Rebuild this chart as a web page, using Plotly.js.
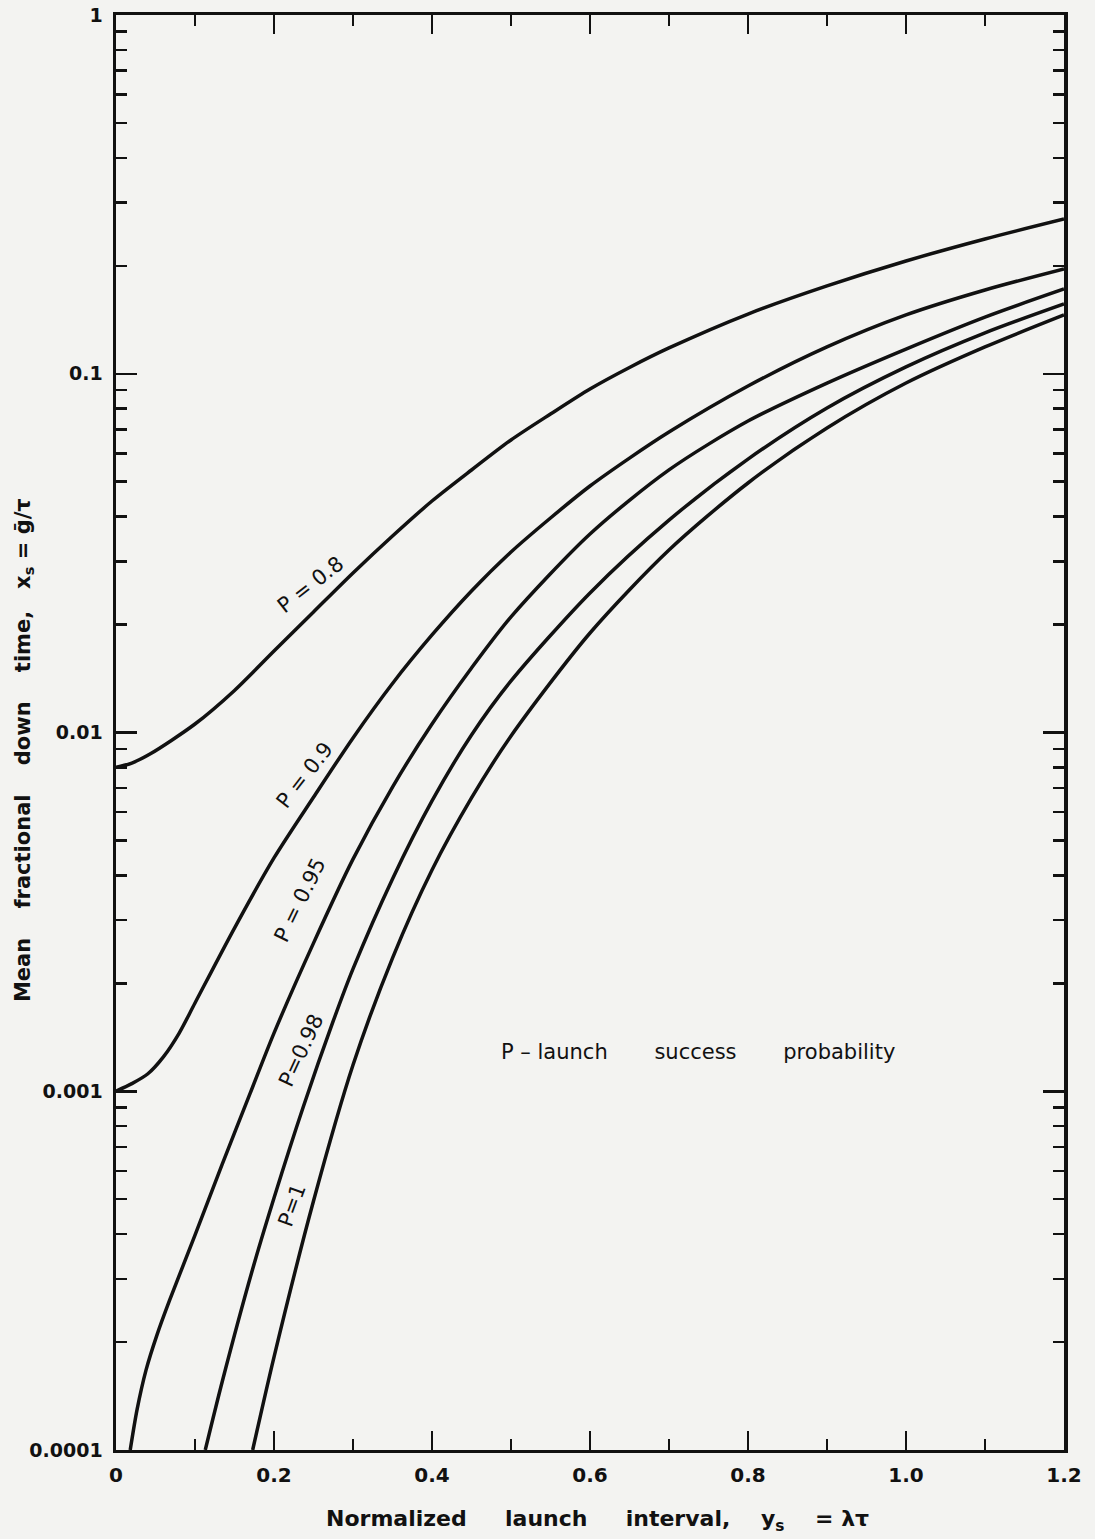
<!DOCTYPE html>
<html>
<head>
<meta charset="utf-8">
<script src="https://cdn.plot.ly/plotly-3.0.1.min.js"></script>
<style>html,body{margin:0;padding:0;background:#f3f3f1;}</style>
</head>
<body>
<div id="chart" style="width:1095px;height:1539px;"></div>
<script>
// ---- data ----
const x08 = [0, 0.02, 0.043, 0.1, 0.15, 0.2, 0.25, 0.3, 0.35, 0.4, 0.45, 0.5, 0.55, 0.6, 0.65, 0.7, 0.8, 0.9, 1.0, 1.1, 1.2];
const y08 = [0.0080, 0.00822, 0.00871, 0.01056, 0.0131, 0.01687, 0.02167, 0.02783, 0.03529, 0.04418, 0.05391, 0.06537, 0.07722, 0.09067, 0.1041, 0.1180, 0.1467, 0.1757, 0.2062, 0.2375, 0.2700];

const x09 = [0, 0.02, 0.04, 0.06, 0.08, 0.1, 0.15, 0.2, 0.25, 0.3, 0.35, 0.4, 0.45, 0.5, 0.55, 0.6, 0.65, 0.7, 0.8, 0.9, 1.0, 1.1, 1.2];
const y09 = [0.0010, 0.00105, 0.001117, 0.001247, 0.001453, 0.001762, 0.00285, 0.00447, 0.0066, 0.00966, 0.0137, 0.0187, 0.0248, 0.03185, 0.03962, 0.04865, 0.0582, 0.0688, 0.0924, 0.1188, 0.1459, 0.1712, 0.196];

const x095 = [0.018, 0.0266, 0.038, 0.0519, 0.068, 0.1, 0.134, 0.17, 0.2, 0.25, 0.3, 0.35, 0.4, 0.45, 0.5, 0.6, 0.7, 0.8, 0.9, 1.0, 1.1, 1.2];
const y095 = [0.0001, 0.0001294, 0.000167, 0.0002094, 0.000262, 0.000397, 0.000622, 0.000989, 0.001452, 0.002588, 0.004437, 0.007047, 0.01056, 0.01513, 0.0210, 0.03575, 0.05395, 0.07381, 0.0942, 0.1172, 0.1439, 0.1723];

const x098 = [0.113, 0.135, 0.173, 0.2, 0.237, 0.275, 0.3, 0.35, 0.4, 0.45, 0.5, 0.6, 0.7, 0.8, 0.9, 1.0, 1.1, 1.2];
const y098 = [0.0001, 0.0001567, 0.0003196, 0.0005039, 0.0009036, 0.00157, 0.002193, 0.003908, 0.006446, 0.00984, 0.01392, 0.02449, 0.03908, 0.05782, 0.08028, 0.1045, 0.130, 0.1565];

const x10 = [0.173, 0.2, 0.25, 0.3, 0.35, 0.4, 0.45, 0.5, 0.6, 0.7, 0.8, 0.9, 1.0, 1.1, 1.2];
const y10 = [0.0001, 0.0001816, 0.0004943, 0.001183, 0.002351, 0.004137, 0.006569, 0.00978, 0.01894, 0.03226, 0.0496, 0.0706, 0.0942, 0.1188, 0.1459];

const curveLabels = ["P = 0.8", "P = 0.9", "P = 0.95", "P=0.98", "P=1"];
const labelX = [0.2456, 0.239, 0.233, 0.235, 0.223];
const labelY = [0.0258, 0.00762, 0.00341, 0.0013, 0.000482];
const labelAngle = [-38, -52, -64, -65, -70];

const xTickVals = [0, 0.2, 0.4, 0.6, 0.8, 1.0, 1.2];
const xTickText = ["0", "0.2", "0.4", "0.6", "0.8", "1.0", "1.2"];
const xMinorVals = [0.1, 0.3, 0.5, 0.7, 0.9, 1.1];
const yTickVals = [0.0001, 0.001, 0.01, 0.1, 1];
const yTickText = ["0.0001", "0.001", "0.01", "0.1", "1"];
const yMinorVals = [];
[0.0001, 0.001, 0.01, 0.1].forEach(d => { for (let k = 2; k <= 9; k++) yMinorVals.push(+(d * k).toPrecision(3)); });

const sp = n => "\u00a0".repeat(n);
const xTitle = "Normalized" + sp(5) + "launch" + sp(5) + "interval," + sp(4) + "y<sub>s</sub>" + sp(4) + "=\u00a0λτ";
const yTitle = "Mean" + sp(4) + "fractional" + sp(4) + "down" + sp(4) + "time," + sp(3) + "x<sub>s</sub>\u00a0=\u00a0ḡ/τ";
const noteText = "P\u00a0–\u00a0launch" + sp(7) + "success" + sp(7) + "probability";

// ---- traces ----
const series = [[x08, y08], [x09, y09], [x095, y095], [x098, y098], [x10, y10]];
const traces = series.map((s, i) => ({
  x: s[0], y: s[1], type: "scatter", mode: "lines",
  name: curveLabels[i],
  line: { color: "#111", width: 3.5, shape: "spline", smoothing: 0.8 },
  hoverinfo: "skip"
}));

const FONT = "DejaVu Sans, sans-serif";
const annotations = curveLabels.map((t, i) => ({
  x: labelX[i], y: Math.log10(labelY[i]), xref: "x", yref: "y",
  text: t, showarrow: false, textangle: labelAngle[i],
  font: { family: FONT, size: 21, color: "#111" }
}));
annotations.push({
  x: 0.737, y: Math.log10(0.00129), xref: "x", yref: "y", text: noteText,
  showarrow: false, font: { family: FONT, size: 21, color: "#111" }
});
annotations.push({
  x: 0.508, y: -0.0488, xref: "paper", yref: "paper", text: xTitle,
  showarrow: false, xanchor: "center", yanchor: "middle",
  font: { family: FONT, size: 22, color: "#111", weight: "bold" }
});
annotations.push({
  x: -0.097, y: 0.4878, xref: "paper", yref: "paper", text: yTitle,
  showarrow: false, textangle: -90, xanchor: "center", yanchor: "middle",
  font: { family: FONT, size: 21, color: "#111", weight: "bold" }
});

const layout = {
  width: 1095, height: 1539,
  margin: { l: 116, r: 31, t: 15, b: 89 },
  paper_bgcolor: "#f3f3f1", plot_bgcolor: "#f3f3f1",
  showlegend: false,
  xaxis: {
    range: [0, 1.2], showgrid: false, zeroline: false,
    showline: true, linecolor: "#111", linewidth: 3, mirror: "ticks",
    ticks: "inside", ticklen: 19, tickwidth: 2.5, tickcolor: "#111",
    tickmode: "array", tickvals: xTickVals, ticktext: xTickText,
    tickfont: { family: FONT, size: 20, color: "#111", weight: "bold" },
    ticklabelstandoff: 5,
    minor: { tickmode: "array", tickvals: xMinorVals, ticks: "inside", ticklen: 11, tickwidth: 2.5, tickcolor: "#111", showgrid: false }
  },
  yaxis: {
    type: "log", range: [-4, 0], showgrid: false, zeroline: false,
    showline: true, linecolor: "#111", linewidth: 3.5, mirror: "ticks",
    ticks: "inside", ticklen: 21, tickwidth: 2.5, tickcolor: "#111",
    tickmode: "array", tickvals: yTickVals, ticktext: yTickText,
    tickfont: { family: FONT, size: 19, color: "#111", weight: "bold" },
    ticklabelstandoff: 6,
    minor: { tickmode: "array", tickvals: yMinorVals, ticks: "inside", ticklen: 11, tickwidth: 2.5, tickcolor: "#111", showgrid: false }
  },
  annotations: annotations
};

Plotly.newPlot("chart", traces, layout, { staticPlot: true, displayModeBar: false });
</script>
</body>
</html>
